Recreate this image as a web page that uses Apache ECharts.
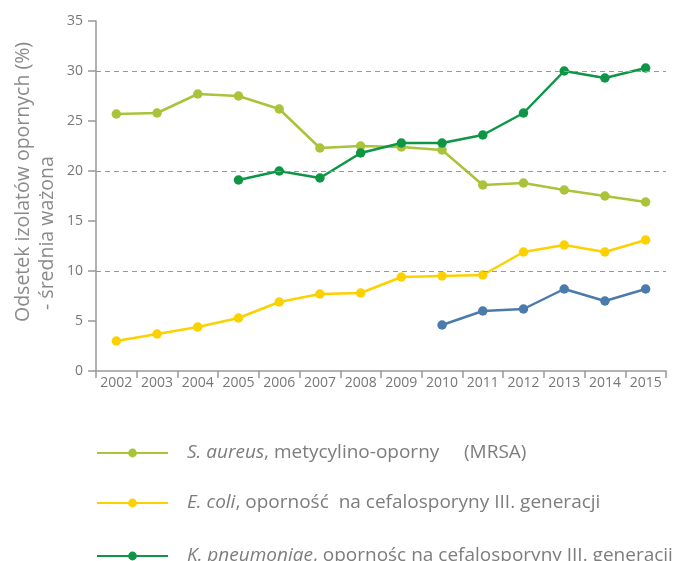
<!DOCTYPE html>
<html>
<head>
<meta charset="utf-8">
<script src="https://cdn.jsdelivr.net/npm/echarts@6/dist/echarts.min.js"></script>
<style>
  html, body { margin: 0; padding: 0; background: #fff; }
  #main { width: 674px; height: 561px; }
</style>
</head>
<body>
<div id="main"></div>
<script>
// lata
const years = ['2002', '2003', '2004', '2005', '2006', '2007', '2008', '2009', '2010', '2011', '2012', '2013', '2014', '2015'];

// odsetek izolatów opornych (%)
const sAureus = [25.7, 25.8, 27.7, 27.5, 26.2, 22.3, 22.5, 22.4, 22.1, 18.6, 18.8, 18.1, 17.5, 16.9];
const eColi = [3.0, 3.7, 4.4, 5.3, 6.9, 7.7, 7.8, 9.4, 9.5, 9.6, 11.9, 12.6, 11.9, 13.1];
const kPneumoniae = [null, null, null, 19.1, 20.0, 19.3, 21.8, 22.8, 22.8, 23.6, 25.8, 30.0, 29.3, 30.3];
const series4 = [null, null, null, null, null, null, null, null, 4.6, 6.0, 6.2, 8.2, 7.0, 8.2];

const gridLines = [10, 20, 30];

const names = {
  sa: 'S. aureus',
  ec: 'E. coli',
  kp: 'K. pneumoniae',
  s4: 'seria 4'
};
const legendText = {
  'S. aureus': '{i|S. aureus}{n|, metycylino-oporny     (MRSA)}',
  'E. coli': '{i|E. coli}{n|, oporność  na cefalosporyny III. generacji}',
  'K. pneumoniae': '{i|K. pneumoniae}{n|, opornośc na cefalosporyny III. generacji}'
};

const font = 'Open Sans';
const grey = '#7d7d7d';

let myChart = echarts.init(document.getElementById('main'));

function legendAt(name, top) {
  return {
    data: [name],
    left: 96,
    top: top,
    padding: 0,
    itemWidth: 71,
    itemHeight: 11,
    formatter: n => legendText[n],
    textStyle: {
      color: grey,
      fontSize: 19,
      fontFamily: font,
      lineHeight: 24,
      rich: {
        i: { fontStyle: 'italic', color: grey, fontSize: 19, fontFamily: font, lineHeight: 24, padding: [0, 0, 0, 14] },
        n: { color: grey, fontSize: 19, fontFamily: font, lineHeight: 24 }
      }
    }
  };
}

function lineSeries(name, data, color) {
  return {
    name: name,
    type: 'line',
    data: data,
    symbol: 'circle',
    symbolSize: 9.5,
    lineStyle: { width: 2.5, color: color },
    itemStyle: { color: color },
    z: 3
  };
}

let option = {
  animation: false,
  grid: { left: 96, right: 8, top: 21, bottom: 190, outerBoundsMode: 'none' },
  legend: [
    legendAt(names.sa, 441),
    legendAt(names.ec, 491),
    legendAt(names.kp, 544)
  ],
  graphic: [
    {
      type: 'text',
      x: 23, y: 322,
      rotation: Math.PI / 2,
      style: {
        text: 'Odsetek izolatów opornych (%)',
        fill: '#8a8a8a', fontSize: 19.5, fontFamily: font,
        align: 'left', verticalAlign: 'middle'
      }
    },
    {
      type: 'text',
      x: 47, y: 310,
      rotation: Math.PI / 2,
      style: {
        text: '- średnia ważona',
        fill: '#8a8a8a', fontSize: 19.5, fontFamily: font,
        align: 'left', verticalAlign: 'middle'
      }
    }
  ],
  xAxis: {
    type: 'category',
    data: years,
    boundaryGap: true,
    axisLine: { lineStyle: { color: '#999', width: 1.5 } },
    axisTick: { show: true, interval: 0, length: 7, lineStyle: { color: '#999', width: 1.5 } },
    axisLabel: { interval: 0, color: '#777', fontSize: 14, fontFamily: font, margin: 5 }
  },
  yAxis: {
    type: 'value',
    min: 0,
    max: 35,
    interval: 5,
    axisLine: { show: true, lineStyle: { color: '#999', width: 1.5 } },
    axisTick: { show: true, length: 8, lineStyle: { color: '#999', width: 1.5 } },
    axisLabel: { color: '#777', fontSize: 14, fontFamily: font, margin: 13 },
    splitLine: { show: false }
  },
  series: [
    Object.assign(lineSeries(names.sa, sAureus, '#a9c33b'), {
      markLine: {
        silent: true,
        symbol: 'none',
        label: { show: false },
        lineStyle: { color: '#999', type: [5, 4], width: 1 },
        data: gridLines.map(v => ({ yAxis: v }))
      }
    }),
    lineSeries(names.ec, eColi, '#fbd200'),
    lineSeries(names.kp, kPneumoniae, '#0e9646'),
    lineSeries(names.s4, series4, '#4b7bab')
  ]
};
myChart.setOption(option);
</script>
</body>
</html>
